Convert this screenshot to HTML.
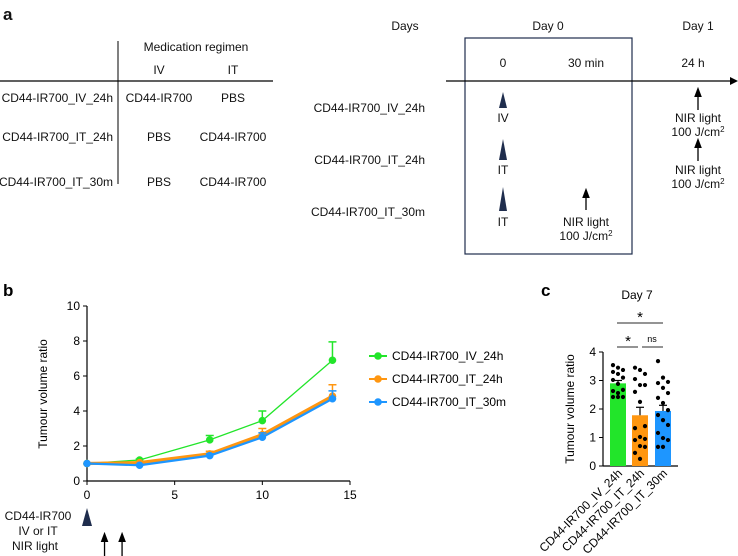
<!DOCTYPE html>
<html><head><meta charset="utf-8"><style>
body{margin:0;background:#fff}
svg{display:block;font-family:"Liberation Sans",Arial,sans-serif}
</style></head><body>
<svg id="s" width="738" height="556" viewBox="0 0 738 556">
<defs><marker id="ah" markerWidth="8" markerHeight="8" refX="4" refY="4" orient="auto"><path d="M0,1 L8,4 L0,7 Z" fill="#000"/></marker></defs>
<g font-size="12" fill="#111">
<text x="3" y="20" font-size="17" font-weight="bold">a</text>
<line x1="118" y1="41" x2="118" y2="184" stroke="#000" stroke-width="1"/>
<line x1="0" y1="81" x2="273" y2="81" stroke="#000" stroke-width="1.2"/>
<text x="196" y="51" text-anchor="middle">Medication regimen</text>
<text x="159" y="74" text-anchor="middle">IV</text>
<text x="233" y="74" text-anchor="middle">IT</text>
<text x="113" y="102" text-anchor="end">CD44-IR700_IV_24h</text>
<text x="113" y="141" text-anchor="end">CD44-IR700_IT_24h</text>
<text x="113" y="186" text-anchor="end">CD44-IR700_IT_30m</text>
<text x="159" y="102" text-anchor="middle">CD44-IR700</text>
<text x="233" y="102" text-anchor="middle">PBS</text>
<text x="159" y="141" text-anchor="middle">PBS</text>
<text x="233" y="141" text-anchor="middle">CD44-IR700</text>
<text x="159" y="186" text-anchor="middle">PBS</text>
<text x="233" y="186" text-anchor="middle">CD44-IR700</text>
</g>
<g font-size="12" fill="#111">
<text x="405" y="30" text-anchor="middle">Days</text>
<text x="548" y="30" text-anchor="middle">Day 0</text>
<text x="698" y="30" text-anchor="middle">Day 1</text>
<rect x="465" y="38" width="167" height="216" fill="none" stroke="#1f2d4d" stroke-width="1.2"/>
<text x="503" y="67" text-anchor="middle">0</text>
<text x="586" y="67" text-anchor="middle">30 min</text>
<text x="693" y="67" text-anchor="middle">24 h</text>
<line x1="446" y1="81" x2="730" y2="81" stroke="#000" stroke-width="1.2"/>
<path d="M730,77 L738,81 L730,85 Z" fill="#000"/>
<text x="425" y="112" text-anchor="end">CD44-IR700_IV_24h</text>
<text x="425" y="164" text-anchor="end">CD44-IR700_IT_24h</text>
<text x="425" y="216" text-anchor="end">CD44-IR700_IT_30m</text>
<path d="M503,92 L507,108 L499,108 Z" fill="#1f2d4d"/>
<path d="M503,139 L507,160 L499,160 Z" fill="#1f2d4d"/>
<path d="M503,187 L507,211 L499,211 Z" fill="#1f2d4d"/>
<text x="503" y="122" text-anchor="middle">IV</text>
<text x="503" y="174" text-anchor="middle">IT</text>
<text x="503" y="226" text-anchor="middle">IT</text>
<line x1="698" y1="110" x2="698" y2="92" stroke="#000" stroke-width="1.3" marker-end="url(#ah)"/>
<line x1="698" y1="161" x2="698" y2="143" stroke="#000" stroke-width="1.3" marker-end="url(#ah)"/>
<line x1="586" y1="210" x2="586" y2="193" stroke="#000" stroke-width="1.3" marker-end="url(#ah)"/>
<text x="698" y="122" text-anchor="middle">NIR light</text>
<text x="698" y="136" text-anchor="middle">100 J/cm<tspan font-size="8" dy="-4">2</tspan></text>
<text x="698" y="174" text-anchor="middle">NIR light</text>
<text x="698" y="188" text-anchor="middle">100 J/cm<tspan font-size="8" dy="-4">2</tspan></text>
<text x="586" y="226" text-anchor="middle">NIR light</text>
<text x="586" y="240" text-anchor="middle">100 J/cm<tspan font-size="8" dy="-4">2</tspan></text>
</g>
<text x="3" y="296" font-size="17" font-weight="bold">b</text>
<text x="541" y="296" font-size="17" font-weight="bold">c</text>
<g id="gb"></g>
<g id="gc"></g>
</svg>
<script>
const days=[0,3,7,10,14];
const seriesNames=["CD44-IR700_IV_24h","CD44-IR700_IT_24h","CD44-IR700_IT_30m"];
const ivMean=[1,1.2,2.35,3.45,6.9];
const ivErr=[0,0.05,0.25,0.55,1.05];
const it24Mean=[1,1.05,1.55,2.65,4.85];
const it24Err=[0,0.05,0.15,0.35,0.65];
const it30Mean=[1,0.9,1.45,2.5,4.7];
const it30Err=[0,0.05,0.1,0.25,0.45];
const bYTicks=[0,2,4,6,8,10];
const bXTicks=[0,5,10,15];
const cGroups=["CD44-IR700_IV_24h","CD44-IR700_IT_24h","CD44-IR700_IT_30m"];
const cMeans=[2.9,1.78,1.93];
const cErrs=[0.1,0.28,0.2];
const cDotsIV=[3.54,3.45,3.37,3.3,3.23,3.1,3.02,2.88,2.67,2.63,2.56,2.42,2.42,2.42];
const cDotsIT24=[3.45,3.37,3.23,3.05,2.84,2.84,2.6,2.25,1.4,1.33,1.02,0.95,0.91,0.7,0.67,0.46,0.25];
const cDotsIT30=[3.68,3.1,2.95,2.91,2.74,2.56,2.39,2.21,1.96,1.79,1.61,1.44,1.16,0.98,0.91,0.67,0.67];
const cYTicks=[0,1,2,3,4];
const colors=["#22e52a","#ff9610","#1e96ff"];
const NS="http://www.w3.org/2000/svg";
function mk(p,t,a,txt){const e=document.createElementNS(NS,t);for(const k in a)e.setAttribute(k,a[k]);if(txt!==undefined)e.textContent=txt;p.appendChild(e);return e;}
const gb=document.getElementById('gb');
const bx=v=>87+v*(263/15), by=v=>481-v*17.5;
let ax=mk(gb,'line',{x1:87,y1:by(0),x2:350,y2:by(0),stroke:'#000','stroke-width':1.2});


ax=mk(gb,'line',{x1:87,y1:by(0),x2:87,y2:by(10),stroke:'#000','stroke-width':1.2});


bYTicks.forEach(t=>{mk(gb,'line',{x1:83,y1:by(t),x2:87,y2:by(t),stroke:'#000'});
 const tx=mk(gb,'text',{x:80,y:by(t)+4,'text-anchor':'end','font-size':12},t);
 
 });
bXTicks.forEach(t=>{mk(gb,'line',{x1:bx(t),y1:by(0),x2:bx(t),y2:by(0)+4,stroke:'#000'});
 const tx=mk(gb,'text',{x:bx(t),y:by(0)+18,'text-anchor':'middle','font-size':12},t);
 
 });
let yt=mk(gb,'text',{x:47,y:394,'text-anchor':'middle','font-size':12,transform:'rotate(-90 47 394)'},'Tumour volume ratio');


const bSeries=[[ivMean,ivErr,1.3],[it24Mean,it24Err,3.2],[it30Mean,it30Err,2.2]];
bSeries.forEach((s,i)=>{
 const [m,e,w]=s;
 const g=mk(gb,'g',{});
 
 
 days.forEach((d,j)=>{if(e[j]>0.02){const x=bx(d),y1=by(m[j]),y2=by(m[j]+e[j]);
  mk(g,'line',{x1:x,y1:y1,x2:x,y2:y2,stroke:colors[i],'stroke-width':1.5});
  mk(g,'line',{x1:x-4,y1:y2,x2:x+4,y2:y2,stroke:colors[i],'stroke-width':1.5});}});
 mk(g,'polyline',{points:days.map((d,j)=>bx(d)+','+by(m[j])).join(' '),fill:'none',stroke:colors[i],'stroke-width':w});
 days.forEach((d,j)=>{const c=mk(g,'circle',{cx:bx(d),cy:by(m[j]),r:3.8,fill:colors[i]});
  
  });
 const ly=356+i*23;
 const lg=mk(gb,'g',{});
 
 
 mk(lg,'line',{x1:369,y1:ly,x2:387,y2:ly,stroke:colors[i],'stroke-width':2});
 mk(lg,'circle',{cx:378,cy:ly,r:3.8,fill:colors[i]});
 mk(lg,'text',{x:392,y:ly+4,'font-size':12},seriesNames[i]);
});
const tl=mk(gb,'g',{'font-size':12,fill:'#111'});


mk(tl,'text',{x:38,y:520,'text-anchor':'middle'},'CD44-IR700');
mk(tl,'text',{x:38,y:535,'text-anchor':'middle'},'IV or IT');
mk(tl,'text',{x:35,y:550,'text-anchor':'middle'},'NIR light');
mk(tl,'path',{d:`M${bx(0)},508 L${bx(0)+5},526 L${bx(0)-5},526 Z`,fill:'#1f2d4d'});
[1,2].forEach(d=>{mk(tl,'line',{x1:bx(d),y1:556,x2:bx(d),y2:537,stroke:'#000','stroke-width':1.3,'marker-end':'url(#ah)'});});
const gc=document.getElementById('gc');
const cy=v=>466-v*28.5;
const cx=[618,640,663], bw=16;
ax=mk(gc,'line',{x1:603,y1:cy(0),x2:678,y2:cy(0),stroke:'#000','stroke-width':1.2});


ax=mk(gc,'line',{x1:603,y1:cy(0),x2:603,y2:cy(4),stroke:'#000','stroke-width':1.2});


cYTicks.forEach(t=>{mk(gc,'line',{x1:599,y1:cy(t),x2:603,y2:cy(t),stroke:'#000'});
 const tx=mk(gc,'text',{x:596,y:cy(t)+4,'text-anchor':'end','font-size':12},t);
 
 });
yt=mk(gc,'text',{x:574,y:409,'text-anchor':'middle','font-size':12,transform:'rotate(-90 574 409)'},'Tumour volume ratio');


const tt=mk(gc,'text',{x:637,y:299,'text-anchor':'middle','font-size':12},'Day 7');


const dots=[cDotsIV,cDotsIT24,cDotsIT30];
cGroups.forEach((n,i)=>{
 const r=mk(gc,'rect',{x:cx[i]-bw/2,y:cy(cMeans[i]),width:bw,height:cy(0)-cy(cMeans[i]),fill:colors[i]});
 
 
 const ey=cy(cMeans[i]+cErrs[i]);
 mk(gc,'line',{x1:cx[i],y1:cy(cMeans[i]),x2:cx[i],y2:ey,stroke:'#000','stroke-width':1.2});
 mk(gc,'line',{x1:cx[i]-4,y1:ey,x2:cx[i]+4,y2:ey,stroke:'#000','stroke-width':1.2});
 dots[i].forEach((v,j)=>{const off=[-5,0,5][j%3];
  const d=mk(gc,'circle',{cx:cx[i]+off,cy:cy(v),r:2.1,fill:'#000'});
  
  });
 const lb=mk(gc,'text',{x:cx[i]+5,y:cy(0)+8,'text-anchor':'end','font-size':12,transform:`rotate(-45 ${cx[i]+5} ${cy(0)+8})`},n);
 
 
});
const sg=mk(gc,'g',{});


mk(sg,'line',{x1:617,y1:323,x2:663,y2:323,stroke:'#555','stroke-width':1.2});
mk(sg,'text',{x:640,y:322,'text-anchor':'middle','font-size':15},'*');
mk(sg,'line',{x1:617,y1:347,x2:638,y2:347,stroke:'#555','stroke-width':1.2});
mk(sg,'text',{x:628,y:346,'text-anchor':'middle','font-size':15},'*');
mk(sg,'line',{x1:642,y1:347,x2:663,y2:347,stroke:'#555','stroke-width':1.2});
mk(sg,'text',{x:652,y:342,'text-anchor':'middle','font-size':9},'ns');
</script>
</body></html>
